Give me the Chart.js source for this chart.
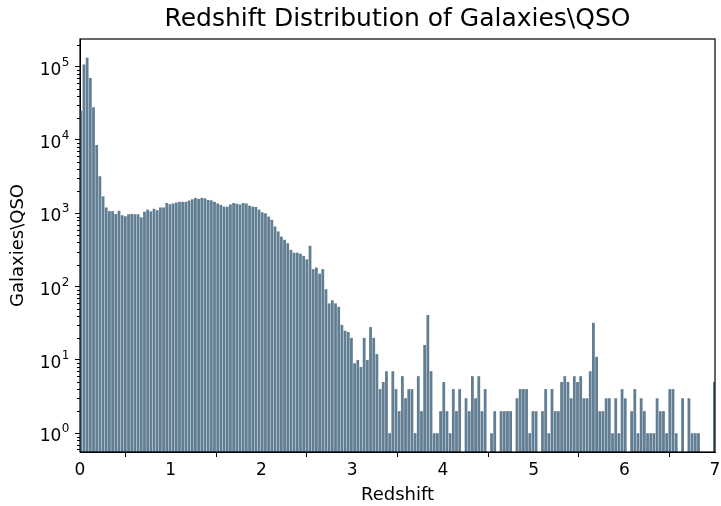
<!DOCTYPE html>
<html>
<head>
<meta charset="utf-8">
<script src="https://cdn.jsdelivr.net/npm/chart.js@4.4.1/dist/chart.umd.min.js"></script>
<style>
  html, body { margin: 0; padding: 0; background: #fff; }
  #wrap { width: 721px; height: 506px; }
</style>
</head>
<body>
<div id="wrap"><canvas id="histChart" width="721" height="506"></canvas></div>
<script>
// histogram range (redshift) and per-bin counts, 200 bins, 0 = empty bin
const zMin = -0.009;
const zMax = 7.011;
const counts = [
    25000, 107000, 132000, 70000, 28000, 8500, 3200, 1700, 1200, 1070,
    1070, 980, 1080, 940, 910, 970, 980, 970, 970, 880,
    1050, 1120, 1060, 1150, 1100, 1200, 1200, 1380, 1330, 1360,
    1400, 1430, 1430, 1430, 1490, 1550, 1620, 1570, 1620, 1600,
    1520, 1500, 1430, 1360, 1300, 1230, 1230, 1320, 1380, 1350,
    1320, 1380, 1360, 1270, 1230, 1220, 1120, 1030, 1000, 900,
    815, 660, 565, 480, 435, 390, 316, 290, 290, 280,
    262, 235, 360, 173, 182, 150, 173, 92, 59, 65,
    59, 53, 30, 25, 24, 20, 9, 10, 8, 20,
    10, 28, 20, 12, 4, 5, 7, 1, 7, 4,
    2, 6, 3, 4, 4, 1, 6, 2, 16, 41,
    7, 1, 1, 2, 5, 2, 1, 4, 2, 4,
    0, 3, 2, 6, 3, 6, 2, 4, 0, 1,
    2, 0, 2, 2, 2, 2, 0, 3, 4, 4,
    4, 1, 2, 2, 0, 2, 4, 1, 4, 2,
    2, 5, 6, 5, 3, 6, 5, 6, 3, 3,
    7, 32, 11, 2, 2, 3, 3, 1, 3, 1,
    4, 3, 0, 2, 4, 1, 3, 2, 1, 1,
    1, 3, 2, 2, 1, 4, 4, 1, 0, 3,
    0, 3, 1, 1, 1, 0, 0, 0, 0, 5
];
const xTickValues = [0, 1, 2, 3, 4, 5, 6, 7];
const yTickValues = [1, 10, 100, 1000, 10000, 100000];
const yTickExponents = ['0', '1', '2', '3', '4', '5'];

const titleText = 'Redshift Distribution of Galaxies\\QSO';
const barColor = '#627e93';
const FONT = "'DejaVu Sans', sans-serif";

// bin centres from the histogram range
const binWidth = (zMax - zMin) / counts.length;
const points = counts.map((c, i) => ({ x: zMin + (i + 0.5) * binWidth, y: c > 0 ? c : null }));

// log-axis limits with a 5% margin, like matplotlib
const nonZero = counts.filter(c => c > 0);
const logLo = Math.log10(Math.min(...nonZero));
const logHi = Math.log10(Math.max(...nonZero));
const pad = (logHi - logLo) * 0.05;
const yMin = Math.pow(10, logLo - pad);
const yMax = Math.pow(10, logHi + pad);

const whiteBg = {
    id: 'whiteBg',
    beforeDraw(chart) {
        const ctx = chart.ctx;
        ctx.save();
        ctx.fillStyle = '#fff';
        ctx.fillRect(0, 0, chart.width, chart.height);
        ctx.restore();
    }
};

// title over the plot box, frame, log minor ticks and 10^n labels
const decorations = {
    id: 'decorations',
    afterDraw(chart) {
        const { ctx, chartArea: a } = chart;
        const y = chart.scales.y;
        ctx.save();

        ctx.fillStyle = '#000';
        ctx.font = '25px ' + FONT;
        ctx.textAlign = 'center';
        ctx.textBaseline = 'middle';
        ctx.fillText(titleText, (a.left + a.right) / 2, 19);

        ctx.strokeStyle = '#000';
        ctx.lineWidth = 1;
        ctx.beginPath();
        for (let n = -1; n <= 5; n++) {
            for (let m = 2; m <= 9; m++) {
                const v = m * Math.pow(10, n);
                if (v < yMin || v > yMax) continue;
                const py = Math.round(y.getPixelForValue(v)) + 0.5;
                ctx.moveTo(a.left - 3, py);
                ctx.lineTo(a.left, py);
            }
        }
        ctx.stroke();

        ctx.textAlign = 'left';
        ctx.textBaseline = 'alphabetic';
        yTickValues.forEach((v, i) => {
            const py = y.getPixelForValue(v);
            const right = a.left - 11;
            ctx.font = '12px ' + FONT;
            const ew = ctx.measureText(yTickExponents[i]).width;
            ctx.font = '17px ' + FONT;
            const bw = ctx.measureText('10').width;
            const x0 = right - ew - bw;
            ctx.fillText('10', x0, py + 8);
            ctx.font = '12px ' + FONT;
            ctx.fillText(yTickExponents[i], x0 + bw + 0.5, py - 1);
        });

        ctx.lineWidth = 1.2;
        ctx.strokeRect(a.left, a.top, a.right - a.left, a.bottom - a.top);
        ctx.restore();
    }
};

const ctx = document.getElementById('histChart').getContext('2d');
new Chart(ctx, {
    type: 'bar',
    data: {
        datasets: [{
            data: points,
            backgroundColor: barColor,
            borderWidth: 0,
            barPercentage: 0.88,
            categoryPercentage: 1.0
        }]
    },
    options: {
        responsive: false,
        animation: false,
        devicePixelRatio: 1,
        layout: { padding: { left: 0, right: 6, top: 39, bottom: 0 } },
        plugins: {
            legend: { display: false },
            tooltip: { enabled: false },
            title: { display: false }
        },
        scales: {
            x: {
                type: 'linear',
                offset: false,
                min: 0,
                max: 7,
                afterBuildTicks: (scale) => {
                    scale.ticks = xTickValues.map(v => ({ value: v }));
                },
                afterFit: (scale) => {
                    scale.height = 54;
                    scale.paddingLeft = 0;
                    scale.paddingRight = 0;
                },
                grid: { drawOnChartArea: false, drawTicks: true, tickLength: 5, color: '#000', tickColor: '#000' },
                border: { display: true, color: '#000', width: 1 },
                ticks: { color: '#000', font: { family: FONT, size: 17 }, padding: 3, maxRotation: 0 },
                title: {
                    display: true,
                    text: 'Redshift',
                    color: '#000',
                    font: { family: FONT, size: 18 },
                    padding: { top: 3, bottom: 0 }
                }
            },
            y: {
                type: 'logarithmic',
                min: yMin,
                max: yMax,
                afterBuildTicks: (scale) => {
                    scale.ticks = yTickValues.map(v => ({ value: v }));
                },
                afterFit: (scale) => {
                    scale.width = 80;
                    scale.paddingTop = 0;
                    scale.paddingBottom = 0;
                },
                grid: { drawOnChartArea: false, drawTicks: true, tickLength: 5, color: '#000', tickColor: '#000' },
                border: { display: true, color: '#000', width: 1 },
                ticks: {
                    color: '#000',
                    font: { family: FONT, size: 17 },
                    padding: 5,
                    callback: () => ''
                },
                title: {
                    display: true,
                    text: 'Galaxies\\QSO',
                    color: '#000',
                    font: { family: FONT, size: 18 },
                    padding: { top: 8, bottom: 0 }
                }
            }
        }
    },
    plugins: [whiteBg, decorations]
});
</script>
</body>
</html>
